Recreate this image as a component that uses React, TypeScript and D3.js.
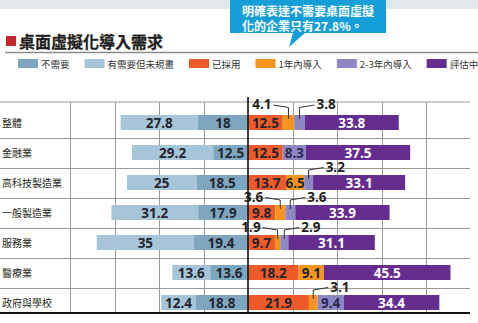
import React from 'react';
import * as d3 from 'd3';

const categories = ['整體', '金融業', '高科技製造業', '一般製造業', '服務業', '醫療業', '政府與學校'];
// left side (drawn from center outwards)
const notNeeded = [18, 12.5, 18.5, 17.9, 19.4, 13.6, 18.8];
const neededUnplanned = [27.8, 29.2, 25, 31.2, 35, 13.6, 12.4];
// right side
const adopted = [12.5, 12.5, 13.7, 9.8, 9.7, 18.2, 21.9];
const within1Year = [4.1, 0, 6.5, 3.6, 1.9, 9.1, 3.1];
const within2to3Years = [3.8, 8.3, 3.2, 3.6, 2.9, 0, 9.4];
const evaluating = [33.8, 37.5, 33.1, 33.9, 31.1, 45.5, 34.4];

const legendLabels = ['不需要', '有需要但未規畫', '已採用', '1年內導入', '2-3年內導入', '評估中'];
const gridTicks = [-64, -48, -32, -16, 16, 32, 48, 64];
const title = '桌面虛擬化導入需求';
const calloutLines = ['明確表達不需要桌面虛擬', '化的企業只有27.8%。'];

const COLORS = {
  notNeeded: '#7ea7bf',
  unplanned: '#a7c5d8',
  adopted: '#ef5a2b',
  y1: '#f7941e',
  y23: '#8d88c3',
  eval: '#662d91',
};
const legendColors = [COLORS.notNeeded, COLORS.unplanned, COLORS.adopted, COLORS.y1, COLORS.y23, COLORS.eval];

const CJK = "'Noto Sans CJK TC', sans-serif";
const NUM = "'Open Sans', 'Noto Sans CJK TC', sans-serif";

export default function App() {
  const W = 478, H = 323;
  const x = d3.scaleLinear().domain([-64, 64]).range([70, 426]);
  const y = d3.scaleBand<string>().domain(categories).range([107.5, 317.5]).paddingInner(0.5).paddingOuter(0.25);
  const bw = y.bandwidth();
  const plotTop = 102, plotBottom = 313, gridRight = 470;

  type Seg = { key: string; color: string; x0: number; x1: number; v: number; textColor: string };
  const rows = categories.map((c, i) => {
    const segs: Seg[] = [];
    const n = notNeeded[i], u = neededUnplanned[i];
    segs.push({ key: 'u', color: COLORS.unplanned, x0: -n - u, x1: -n, v: u, textColor: '#23262e' });
    segs.push({ key: 'n', color: COLORS.notNeeded, x0: -n, x1: 0, v: n, textColor: '#23262e' });
    const right = [
      { key: 'a', color: COLORS.adopted, v: adopted[i], textColor: '#23262e' },
      { key: 'y1', color: COLORS.y1, v: within1Year[i], textColor: '#23262e' },
      { key: 'y23', color: COLORS.y23, v: within2to3Years[i], textColor: '#2a2850' },
      { key: 'e', color: COLORS.eval, v: evaluating[i], textColor: '#ffffff' },
    ];
    let acc = 0;
    right.forEach(r => {
      segs.push({ ...r, x0: acc, x1: acc + r.v });
      acc += r.v;
    });
    return { c, segs };
  });

  // legend layout
  const legendFont = 9.5;
  const textW = (s: string) => Array.from(s).reduce((a, ch) => a + (/[\u4e00-\u9fff]/.test(ch) ? legendFont : ch === '-' ? legendFont * 0.34 : legendFont * 0.56), 0);
  let lx = 18;
  const legendItems = legendLabels.map((l, i) => {
    const item = { l, x: lx, color: legendColors[i] };
    lx += 23 + textW(l) + 15;
    return item;
  });

  return (
    <svg width={W} height={H} style={{ position: 'absolute', left: 0, top: 0, background: '#fff' }}>
      {/* top band */}
      <rect x={0} y={0} width={W} height={9} fill="#e4e7e9" />
      {/* callout */}
      <path d="M230,0 H386 V33 H305 L289,47 L293,33 H230 Z" fill="#169ed9" />
      {calloutLines.map((t, i) => (
        <text key={i} x={242} y={10 + i * 15.5} fill="#fff" fontSize={12} fontWeight={700} fontFamily={CJK} dominantBaseline="central">{t}</text>
      ))}
      {/* title */}
      <rect x={6} y={36} width={10} height={10} fill="#c1272d" />
      <text x={19} y={41} fontSize={16} fontWeight={700} fontFamily={CJK} fill="#231f20" stroke="#231f20" strokeWidth={0.3} dominantBaseline="central">{title}</text>
      <line x1={5} x2={W} y1={52.5} y2={52.5} stroke="#8c8c8c" strokeWidth={1.5} />
      {/* legend */}
      {legendItems.map((it, i) => (
        <g key={i}>
          <rect x={it.x} y={59} width={20} height={9} fill={it.color} />
          <text x={it.x + 23} y={63.5} fontSize={legendFont} fontFamily={CJK} fill="#333" dominantBaseline="central">{it.l}</text>
        </g>
      ))}
      {/* grid */}
      <line x1={0} x2={gridRight} y1={plotTop} y2={plotTop} stroke="#9a9a9a" strokeWidth={1} />
      {categories.slice(1).map((c, i) => {
        const prev = categories[i];
        const yy = Math.round(((y(prev) as number) + bw + (y(c) as number)) / 2) + 0.5;
        return <line key={c} x1={0} x2={gridRight} y1={yy} y2={yy} stroke="#9a9a9a" strokeWidth={1} />;
      })}
      {gridTicks.map(t => (
        <line key={t} x1={Math.round(x(t)) + 0.5} x2={Math.round(x(t)) + 0.5} y1={plotTop} y2={plotBottom} stroke="#9a9a9a" strokeWidth={1} />
      ))}
      {/* bars */}
      {rows.map(({ c, segs }) => {
        const y0 = y(c) as number;
        return (
          <g key={c}>
            <text x={2} y={y0 + bw / 2} fontSize={10} fontFamily={CJK} fill="#231f20" dominantBaseline="central">{c}</text>
            {segs.filter(s => s.v > 0).map(s => (
              <rect key={s.key} x={x(s.x0)} y={y0} width={x(s.x1) - x(s.x0)} height={bw} fill={s.color} />
            ))}
            {segs.filter(s => s.v >= 5).map(s => (
              <text key={'t' + s.key} x={(x(s.x0) + x(s.x1)) / 2} y={y0 + bw / 2 + 0.5} textAnchor="middle" dominantBaseline="central"
                fontSize={13.5} fontWeight={700} fontFamily={NUM} fill={s.textColor}>{s.v}</text>
            ))}
          </g>
        );
      })}
      {/* small-value leaders */}
      {rows.map(({ c, segs }, ri) => {
        const y0 = y(c) as number;
        const smalls = segs.filter(s => s.v > 0 && s.v < 5);
        const lift = ri === 0 ? 11 : 8.5;
        return smalls.map((s, j) => {
          const dir = smalls.length > 1 && j === 0 ? -1 : 1;
          const cx = (x(s.x0) + x(s.x1)) / 2;
          const elbowY = y0 - lift + 3.5;
          const endX = cx + dir * 15;
          const endY = y0 - lift + 1;
          return (
            <g key={c + s.key}>
              <polyline points={`${cx},${y0 + 4} ${cx},${elbowY} ${endX},${endY}`} fill="none" stroke="#333" strokeWidth={1} />
              <text x={endX + dir * 2} y={y0 - lift} textAnchor={dir > 0 ? 'start' : 'end'} dominantBaseline="central"
                fontSize={13.5} fontWeight={700} fontFamily={NUM} fill="#231f20">{s.v}</text>
            </g>
          );
        });
      })}
      {/* center & bottom lines */}
      <line x1={x(0)} x2={x(0)} y1={97} y2={plotBottom + 1} stroke="#111" strokeWidth={1.6} />
      <line x1={0} x2={gridRight} y1={plotBottom} y2={plotBottom} stroke="#111" strokeWidth={2} />
    </svg>
  );
}
